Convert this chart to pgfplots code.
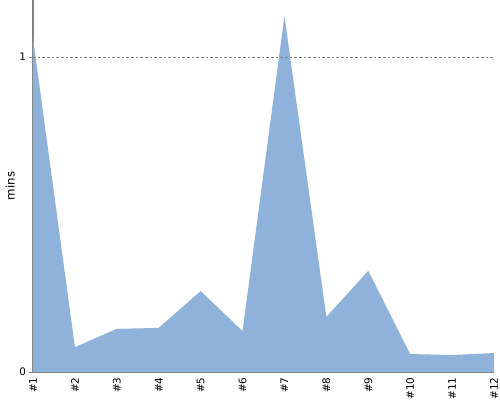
\documentclass[border=0pt]{standalone}
\usepackage{fontspec}
\setmainfont{DejaVu Sans}
\usepackage{pgfplots}
\pgfplotsset{compat=1.18}
\definecolor{areafill}{RGB}{143,178,219}
\definecolor{axisgray}{RGB}{130,130,130}
\begin{document}
\begin{tikzpicture}
\useasboundingbox (-24.75pt,-21pt) rectangle (350.25pt,279pt);
\begin{axis}[
  scale only axis,
  width=345.75pt, height=279pt,
  xmin=0, xmax=11, ymin=0, ymax=1.181,
  axis x line*=bottom, axis y line*=left,
  axis line style={axisgray, line width=0.8pt, -},
  xtick={0,...,11},
  xticklabels={\#1,\#2,\#3,\#4,\#5,\#6,\#7,\#8,\#9,\#10,\#11,\#12},
  x tick label style={rotate=90, anchor=east, font=\fontsize{7.8}{9}\selectfont, inner sep=1pt},
  ytick={0,1},
  y tick label style={font=\fontsize{7.8}{9}\selectfont, inner sep=2pt},
  /pgf/number format/assume math mode=true,
  tick style={axisgray, line width=0.6pt},
  major tick length=3pt,
  tick align=outside,
  xtick style={draw=none},
  ylabel={mins},
  ylabel style={font=\fontsize{8.8}{10}\selectfont, at={(axis description cs:0,0.5)}, anchor=center, yshift=17pt},
  clip=false,
]
\addplot[fill=areafill, draw=none] coordinates {
  (0,1.060) (1,0.079) (2,0.137) (3,0.140) (4,0.257) (5,0.130)
  (6,1.130) (7,0.175) (8,0.321) (9,0.057) (10,0.054) (11,0.060)
} \closedcycle;
\addplot[axisgray, line width=0.5pt, dash pattern=on 2pt off 1.5pt] coordinates {(0,1) (11,1)};
\end{axis}
\end{tikzpicture}
\end{document}
